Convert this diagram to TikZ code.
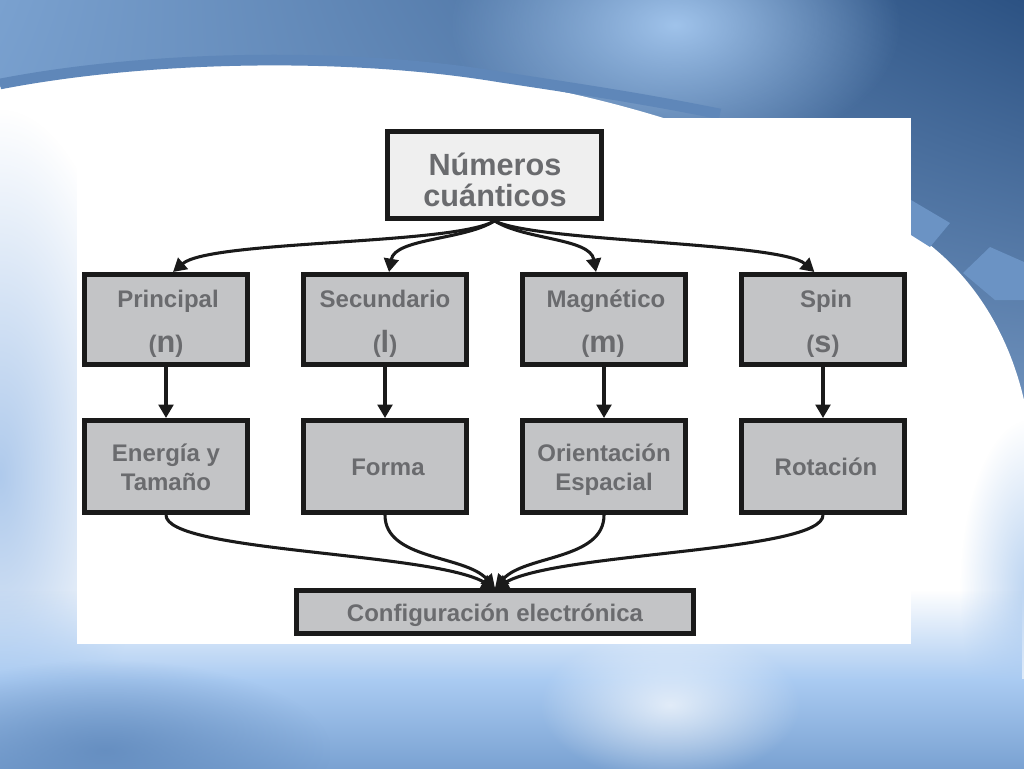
\documentclass[tikz,border=0pt]{standalone}
\usepackage{fontspec}
\setmainfont{Liberation Sans}
\usetikzlibrary{arrows.meta,fadings,shadings}
\definecolor{txtgray}{HTML}{6A6B6E}
\definecolor{boxfill}{HTML}{C3C4C6}
\definecolor{topfill}{HTML}{EFEFEF}
\definecolor{boxline}{HTML}{1A1A1A}
\definecolor{bgA}{HTML}{7AA1CF}
\definecolor{bgB}{HTML}{A9CCF3}
\definecolor{bgC}{HTML}{2C5283}
\definecolor{bgD}{HTML}{5F88BB}
\definecolor{bgE}{HTML}{A8C8EE}
\definecolor{stripe}{HTML}{5F87B9}
\definecolor{ribbon}{HTML}{6B93C4}
\definecolor{leftblue}{HTML}{AFCAEC}
\definecolor{botA}{HTML}{AACBF2}
\definecolor{botB}{HTML}{7AA2D2}
\tikzfading[name=fadeup, top color=transparent!100, bottom color=transparent!0]
\tikzfading[name=softspot, inner color=transparent!0, outer color=transparent!100]
\begin{document}
\begin{tikzpicture}[x=0.75pt,y=-0.75pt,
  box/.style={draw=boxline, line width=3.75pt, fill=boxfill, inner sep=0pt,
    minimum width=122pt, minimum height=67.5pt},
  boxb/.style={box, minimum height=69pt},
  lbl/.style={font=\fontsize{18}{21}\selectfont\bfseries, text=txtgray, inner sep=0pt, anchor=base},
  big/.style={font=\fontsize{23}{26}\selectfont\bfseries, text=txtgray, inner sep=0pt, anchor=base},
  conn/.style={draw=boxline, line width=2.3pt, -{Triangle[length=10pt,width=11pt]}}
]
\useasboundingbox (0,0) rectangle (1024,768);
% ---------- background ----------
\shade[upper left=bgA, upper right=bgC, lower left=bgD, lower right=bgE] (0,0) rectangle (1024,768);
\fill[bgB, path fading=softspot, opacity=0.9] (450,-110) rectangle (900,160);
\fill[white] (0,87) .. controls (150,58) and (350,55) .. (500,80)
  .. controls (700,112) and (860,190) .. (930,245)
  .. controls (980,285) and (1010,340) .. (1024,400) -- (1024,768) -- (0,768) -- cycle;
\draw[stripe, line width=8pt] (0,84) .. controls (150,55) and (350,52) .. (500,77)
  .. controls (600,92) and (650,100) .. (720,114);
\fill[ribbon] (911,200) -- (950,223) -- (930,247) -- (911,235) -- cycle;
\fill[ribbon] (963,273) -- (990,247) -- (1024,262) -- (1024,300) -- (995,300) -- cycle;
\fill[leftblue, path fading=softspot] (-140,110) rectangle (140,840);
\fill[bgE, path fading=softspot, opacity=0.8] (960,420) rectangle (1100,760);
\fill[botA, path fading=fadeup] (0,590) rectangle (1024,680);
\shade[top color=botA, bottom color=botB] (0,679) rectangle (1024,768);
\fill[bgD, path fading=softspot, opacity=0.8] (-120,660) rectangle (330,840);
\fill[white, path fading=softspot, opacity=0.7] (540,630) rectangle (800,780);
% panel
\fill[white] (77,118) rectangle (911,644);
% ---------- boxes ----------
\node[box, fill=topfill, minimum width=160.5pt, minimum height=65pt] (top) at (494.5,175) {};
\node[big] (topa) at (495,175) {Números};
\node[big] (topb) at (495,206) {cuánticos};

\node[box] (pn) at (166,319.5) {};
\node[box] (ps) at (385,319.5) {};
\node[box] (pm) at (604,319.5) {};
\node[box] (pp) at (823,319.5) {};
\node[lbl] (pnt) at (168,307) {Principal};
\node[lbl] (pst) at (385,307) {Secundario};
\node[lbl] (pmt) at (606,307) {Magnético};
\node[lbl] (ppt) at (826,307) {Spin};
\node[lbl] (pnl) at (166,352) {({\fontsize{23}{24}\selectfont n})};
\node[lbl] (psl) at (385,352) {({\fontsize{23}{24}\selectfont l})};
\node[lbl] (pml) at (603,352) {({\fontsize{23}{24}\selectfont m})};
\node[lbl] (ppl) at (823,352) {({\fontsize{23}{24}\selectfont s})};

\node[boxb] (qe) at (166,466.5) {};
\node[boxb] (qf) at (385,466.5) {};
\node[boxb] (qo) at (604,466.5) {};
\node[boxb] (qr) at (823,466.5) {};
\node[lbl] (qea) at (166,461.5) {Energía y};
\node[lbl] (qeb) at (166,490.5) {Tamaño};
\node[lbl] (qft) at (388,475) {Forma};
\node[lbl] (qoa) at (604,461.5) {Orientación};
\node[lbl] (qob) at (604,490.5) {Espacial};
\node[lbl] (qrt) at (826,475) {Rotación};

\node[box, minimum width=298pt, minimum height=32pt] (bt) at (495,612) {};
\node[lbl] (btt) at (495,621.5) {Configuración electrónica};

% ---------- connectors ----------
\draw[conn] (top.south) .. controls (455,245) and (210,240) .. ([xshift=5.25pt]pn.north);
\draw[conn] (top.south) .. controls (465,240) and (395,238) .. ([xshift=3pt]ps.north);
\draw[conn] (top.south) .. controls (525,240) and (590,238) .. ([xshift=-6pt]pm.north);
\draw[conn] (top.south) .. controls (535,242) and (780,242) .. ([xshift=-6.5pt]pp.north);

\draw[conn] (pn.south) -- (qe.north);
\draw[conn] (ps.south) -- (qf.north);
\draw[conn] (pm.south) -- (qo.north);
\draw[conn] (pp.south) -- (qr.north);

\draw[conn] (qe.south) .. controls (166,552) and (430,552) .. (bt.north);
\draw[conn] (qf.south) .. controls (385,560) and (465,555) .. (bt.north);
\draw[conn] (qo.south) .. controls (604,560) and (525,555) .. (bt.north);
\draw[conn] (qr.south) .. controls (823,552) and (560,552) .. (bt.north);
\end{tikzpicture}
\end{document}
